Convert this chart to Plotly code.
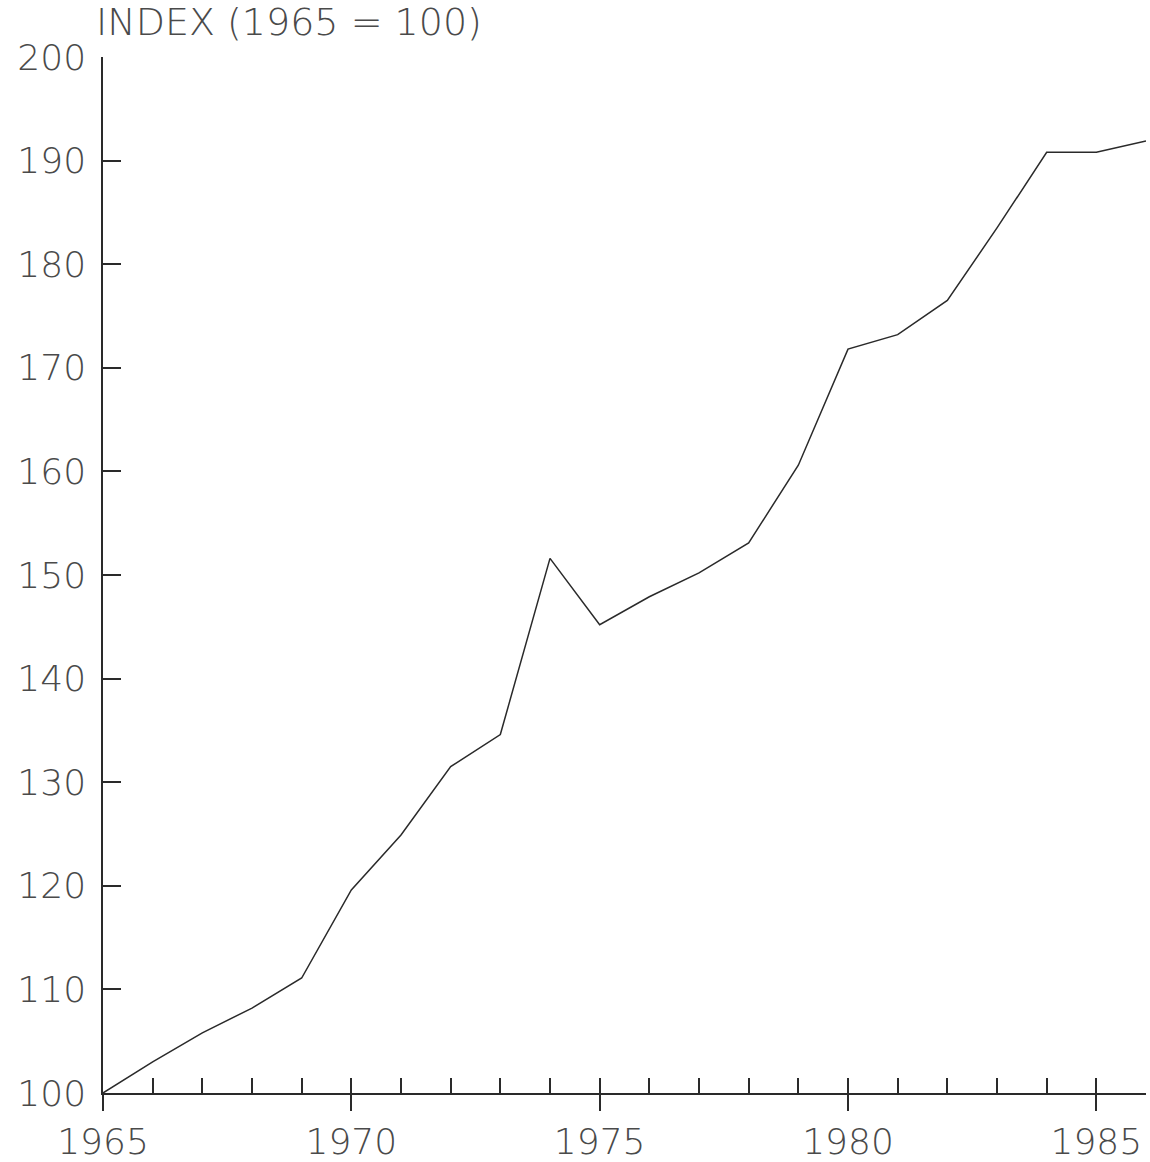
import plotly.graph_objects as go

years = list(range(1965, 1987))
index_values = [100.0, 103.0, 105.8, 108.2, 111.1, 119.6, 124.9, 131.5, 134.6, 151.6,
                145.2, 147.9, 150.2, 153.1, 160.6, 171.8, 173.2, 176.5, 183.5, 190.8,
                190.8, 191.9]
major_years = [1965, 1970, 1975, 1980, 1985]
y_ticks = [100, 110, 120, 130, 140, 150, 160, 170, 180, 190, 200]
title_text = "INDEX (1965 = 100)"

ink = "#2a2a2a"
text_col = "#4a4a4a"
font = dict(family="DejaVu Sans", size=36, color=text_col, weight=200)
title_font = dict(family="DejaVu Sans", size=38, color=text_col, weight=200)

fig = go.Figure()
fig.add_trace(go.Scatter(x=years, y=index_values, mode="lines",
                         line=dict(color=ink, width=1.5), showlegend=False,
                         hoverinfo="x+y"))
fig.add_trace(go.Scatter(x=[years[0], years[-1]], y=[index_values[0], index_values[0]],
                         xaxis="x2", mode="lines", line=dict(width=0),
                         showlegend=False, hoverinfo="skip", opacity=0))

fig.update_layout(
    width=1150, height=1162,
    margin=dict(l=103, r=4, t=57, b=69),
    paper_bgcolor="white", plot_bgcolor="white",
    xaxis=dict(range=[1965, 1986], tickmode="array", tickvals=major_years,
               ticktext=[str(y) for y in major_years],
               ticks="outside", ticklen=16, tickwidth=1.5, tickcolor=ink,
               showline=True, linecolor=ink, linewidth=1.5,
               showgrid=False, zeroline=False, tickfont=font,
               ticklabelstandoff=0, automargin=False),
    xaxis2=dict(range=[1965, 1986], overlaying="x", anchor="y", side="bottom",
                tickmode="array", tickvals=years, ticks="inside", ticklen=15,
                tickwidth=1.5, tickcolor=ink, showticklabels=False,
                showline=False, showgrid=False, zeroline=False, automargin=False),
    yaxis=dict(range=[100, 200], tickmode="array", tickvals=y_ticks,
               ticktext=[str(v) for v in y_ticks],
               ticks="inside", ticklen=18, tickwidth=1.5, tickcolor=ink,
               showline=True, linecolor=ink, linewidth=1.5,
               showgrid=False, zeroline=False, tickfont=font,
               ticklabelstandoff=8, automargin=False),
    annotations=[dict(text=title_text, xref="paper", yref="paper",
                      x=-0.009, y=1.034, xanchor="left", yanchor="middle",
                      showarrow=False, font=title_font)],
)

fig.write_html("out.html", config={"displayModeBar": False},
               post_script="document.body.style.margin='0';document.body.style.overflow='hidden';")
